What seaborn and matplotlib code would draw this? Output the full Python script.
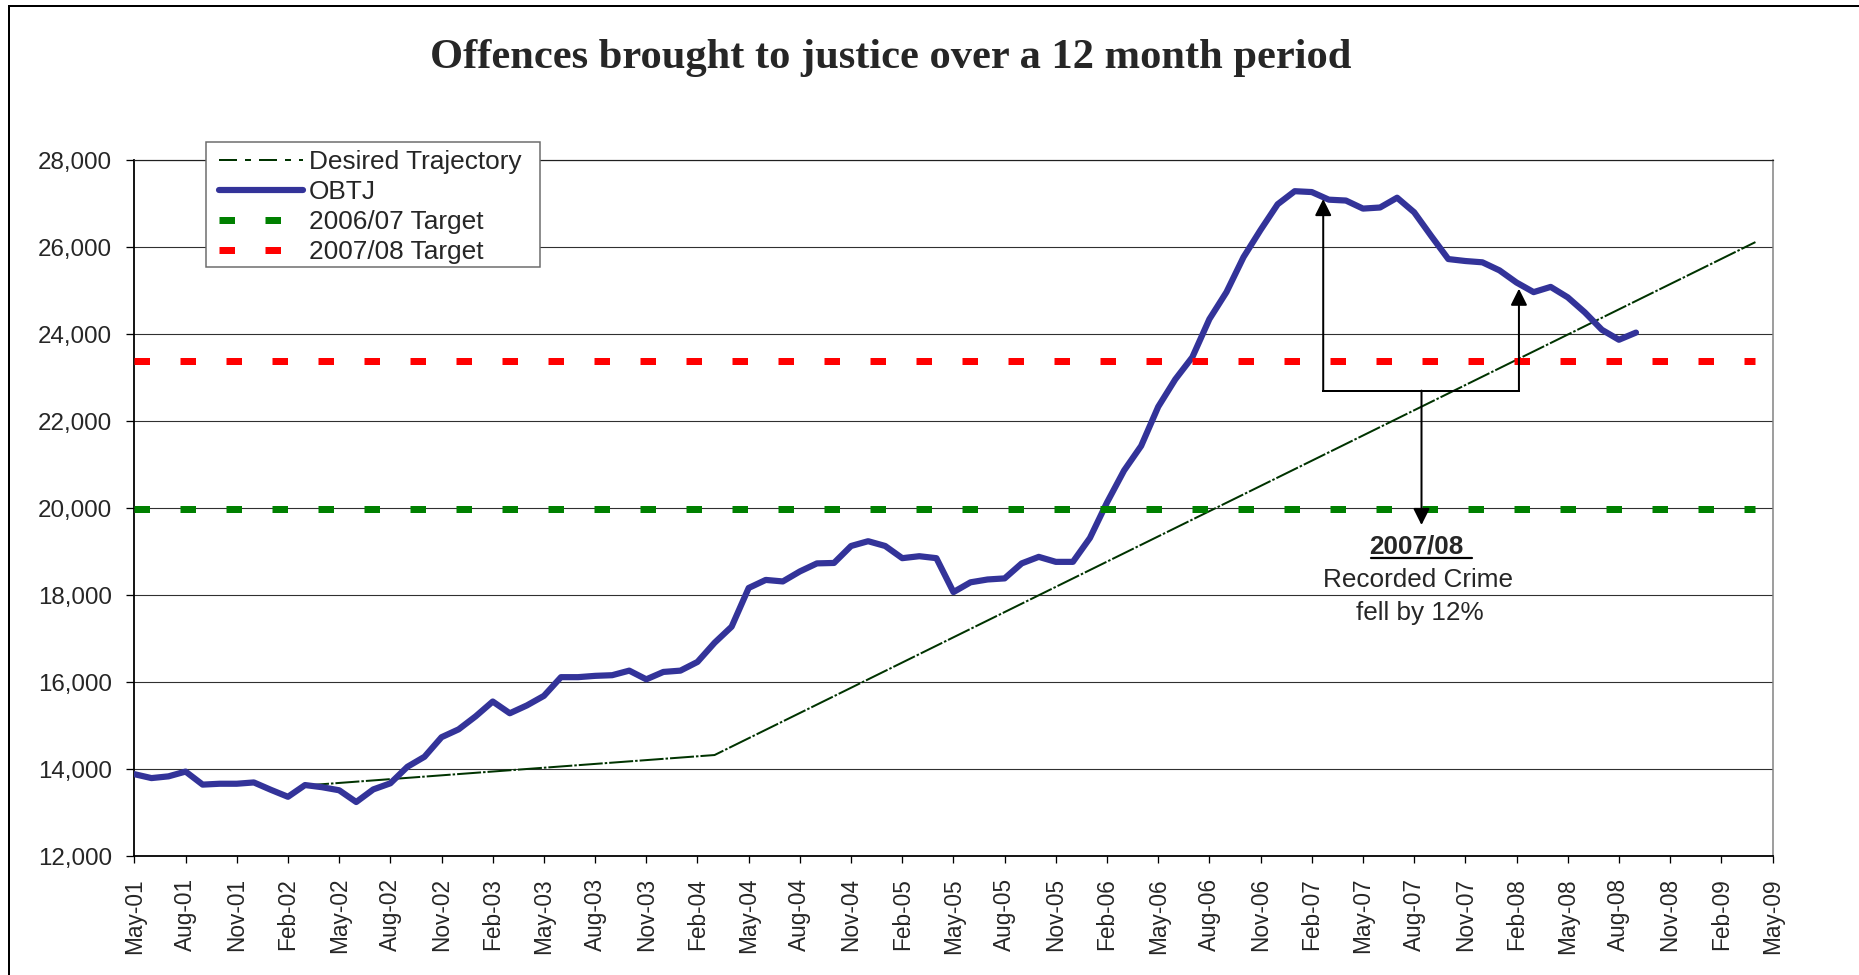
import numpy as np
import pandas as pd
import matplotlib
matplotlib.use("Agg")
import matplotlib.pyplot as plt
import seaborn as sns
from matplotlib.patches import Rectangle
from matplotlib.lines import Line2D

# ------------------------------------------------------------------ data
x_tick_labels = ["May-01", "Aug-01", "Nov-01", "Feb-02", "May-02", "Aug-02", "Nov-02",
                 "Feb-03", "May-03", "Aug-03", "Nov-03", "Feb-04", "May-04", "Aug-04",
                 "Nov-04", "Feb-05", "May-05", "Aug-05", "Nov-05", "Feb-06", "May-06",
                 "Aug-06", "Nov-06", "Feb-07", "May-07", "Aug-07", "Nov-07", "Feb-08",
                 "May-08", "Aug-08", "Nov-08", "Feb-09", "May-09"]
y_ticks = [12000, 14000, 16000, 18000, 20000, 22000, 24000, 26000, 28000]

obtj_start = "May-01"   # monthly values, May-01 .. Sep-08
obtj_values = [13890, 13800, 13840, 13950, 13650, 13670, 13670, 13700, 13530, 13370,
               13640, 13590, 13520, 13250, 13540, 13680, 14060, 14290, 14740, 14920,
               15220, 15560, 15290, 15470, 15690, 16120, 16120, 16150, 16165, 16270,
               16070, 16240, 16270, 16470, 16910, 17280, 18170, 18355, 18320, 18550,
               18735, 18745, 19135, 19245, 19135, 18855, 18900, 18855, 18075, 18300,
               18365, 18390, 18735, 18885, 18770, 18770, 19320, 20135, 20870, 21435,
               22335, 22965, 23475, 24350, 24970, 25775, 26400, 26990, 27290, 27270,
               27095, 27075, 26890, 26915, 27140, 26805, 26260, 25730, 25685, 25655,
               25470, 25190, 24970, 25090, 24850, 24505, 24105, 23875, 24040]

traj_months = ["Mar-02", "Mar-04", "Apr-09"]
traj_values = [13630, 14330, 26120]

target_months = ["May-01", "Apr-09"]
target_0607 = [19975, 19975]
target_0708 = [23390, 23390]

MONTHS = ["Jan", "Feb", "Mar", "Apr", "May", "Jun", "Jul", "Aug", "Sep", "Oct", "Nov", "Dec"]


def month_pos(label):
    """position on the monthly axis, counted from May-01"""
    mon, yy = label.split("-")
    return (2000 + int(yy) - 2001) * 12 + MONTHS.index(mon) - 4


obtj_x = month_pos(obtj_start) + np.arange(len(obtj_values))
traj_x = [month_pos(m) for m in traj_months]
target_x = [month_pos(m) for m in target_months]
x_tick_pos = [month_pos(m) for m in x_tick_labels]

df_obtj = pd.DataFrame({"month": obtj_x, "value": obtj_values})
df_traj = pd.DataFrame({"month": traj_x, "value": traj_values})
df_t1 = pd.DataFrame({"month": target_x, "value": target_0607})
df_t2 = pd.DataFrame({"month": target_x, "value": target_0708})

# ------------------------------------------------------------------ style
sns.set_style("white")
plt.rcParams["font.family"] = ["Liberation Sans", "DejaVu Sans"]
plt.rcParams["lines.scale_dashes"] = False

W, H, DPI = 1859, 975, 100
PT = 72.0 / DPI  # points per pixel

fig = plt.figure(figsize=(W / DPI, H / DPI), dpi=DPI)
fig.patch.set_facecolor("white")

L, R, T, B = 134.4, 1772.5, 160.3, 856.4
ax = fig.add_axes([L / W, 1 - B / H, (R - L) / W, (B - T) / H])
ax.set_facecolor("white")

traj_color = "#003300"
obtj_color = "#333399"

sns.lineplot(data=df_traj, x="month", y="value", ax=ax, color=traj_color,
             lw=2.0 * PT, errorbar=None, label="Desired Trajectory", zorder=2)
l_traj = ax.lines[-1]
l_traj.set_dashes((24 * PT, 2.0 * PT, 2.5 * PT, 2.0 * PT))

sns.lineplot(data=df_obtj, x="month", y="value", ax=ax, color=obtj_color,
             lw=6.2 * PT, errorbar=None, label="OBTJ", zorder=3)
l_obtj = ax.lines[-1]
l_obtj.set_solid_joinstyle("round")
l_obtj.set_solid_capstyle("round")

sns.lineplot(data=df_t1, x="month", y="value", ax=ax, color="#008000",
             lw=7.0 * PT, errorbar=None, label="2006/07 Target", zorder=4)
l_t1 = ax.lines[-1]
l_t1.set_dashes((15.5 * PT, 30.5 * PT))
l_t1.set_dash_capstyle("butt")

sns.lineplot(data=df_t2, x="month", y="value", ax=ax, color="#FF0000",
             lw=7.0 * PT, errorbar=None, label="2007/08 Target", zorder=4)
l_t2 = ax.lines[-1]
l_t2.set_dashes((15.5 * PT, 30.5 * PT))
l_t2.set_dash_capstyle("butt")

# axes
ax.set_xlim(0, 96)
ax.set_ylim(12000, 28000)
ax.set_xticks(x_tick_pos)
ax.set_xticklabels(x_tick_labels, rotation=90, fontsize=16.3)
ax.set_yticks(y_ticks)
ax.set_yticklabels([f"{v:,}" for v in y_ticks], fontsize=17.4)
ax.set_xlabel("")
ax.set_ylabel("")
ax.tick_params(axis="x", direction="out", length=7 * PT, width=1.3 * PT, pad=10.5,
               color="black", bottom=True)
ax.tick_params(axis="y", direction="out", length=8 * PT, width=1.3 * PT, pad=10.5,
               color="black", left=True)
ax.yaxis.grid(True, color="#303030", lw=1.1 * PT)
ax.xaxis.grid(False)
ax.set_axisbelow(True)
for s in ["left", "bottom"]:
    ax.spines[s].set_color("black")
    ax.spines[s].set_linewidth(1.8 * PT)
ax.spines["top"].set_color("#202020")
ax.spines["top"].set_linewidth(1.2 * PT)
ax.spines["right"].set_color("#808080")
ax.spines["right"].set_linewidth(1.5 * PT)

# legend (frame drawn separately)
if ax.get_legend() is not None:
    ax.get_legend().remove()
traj_proxy = Line2D([], [], color=traj_color, lw=2.0 * PT,
                    dashes=(18 * PT, 8 * PT, 6 * PT, 8 * PT))
handles = [traj_proxy, l_obtj, l_t1, l_t2]
labels = ["Desired Trajectory", "OBTJ", "2006/07 Target", "2007/08 Target"]
leg = ax.legend(handles, labels, loc="upper left",
                bbox_to_anchor=(219 / W, 1 - 150 / H), bbox_transform=fig.transFigure,
                frameon=False, fontsize=18.9, borderpad=0, borderaxespad=0,
                handlelength=3.2, handletextpad=0.22, labelspacing=0.23)
leg.set_zorder(6)
ax.add_artist(Rectangle((206 / W, 1 - 267 / H), (540 - 206) / W, (267 - 142) / H,
                        transform=fig.transFigure, facecolor="white",
                        edgecolor="#6a6a6a", lw=1.5 * PT, zorder=5, clip_on=False))

# annotation (bracket + arrows)
ann = dict(left_x=69.67, right_x=81.14, mid_x=75.43, base=22706,
           left_tip=27110, right_tip=25049, down_tip=19617)
astyle = dict(arrowstyle="-|>,head_length=0.5,head_width=0.25", mutation_scale=20,
              lw=2.0 * PT, color="black", shrinkA=0, shrinkB=0)
ax.annotate("", xy=(ann["left_x"], ann["left_tip"]), xytext=(ann["left_x"], ann["base"]),
            arrowprops=astyle, zorder=7)
ax.annotate("", xy=(ann["right_x"], ann["right_tip"]), xytext=(ann["right_x"], ann["base"]),
            arrowprops=astyle, zorder=7)
ax.annotate("", xy=(ann["mid_x"], ann["down_tip"]), xytext=(ann["mid_x"], ann["base"]),
            arrowprops=astyle, zorder=7)
ax.plot([ann["left_x"], ann["right_x"]], [ann["base"], ann["base"]], color="black",
        lw=2.0 * PT, zorder=7, solid_capstyle="projecting")

ax.text(75.15, 18951, "2007/08", ha="center", va="baseline", fontsize=18.8,
        fontweight="bold", zorder=7)
ax.plot([72.46, 78.37], [18859, 18859], color="black", lw=2.2 * PT, zorder=7)
ax.text(75.25, 18192, "Recorded Crime", ha="center", va="baseline", fontsize=18.8, zorder=7)
ax.text(75.35, 17434, "fell by 12%", ha="center", va="baseline", fontsize=18.8, zorder=7)

# title
fig.text(891 / W, 1 - 68.3 / H, "Offences brought to justice over a 12 month period",
         ha="center", va="baseline", fontsize=30.6, fontweight="bold",
         family=["Liberation Serif", "DejaVu Serif"])

# outer chart border (extends beyond the right and bottom edges)
fig.add_artist(Rectangle((9 / W, -0.1), 1.2, 1.1 - 5.7 / H, transform=fig.transFigure,
                         fill=False, edgecolor="black", lw=2.0 * PT))

fig.savefig("out.png", dpi=DPI, facecolor="white")
